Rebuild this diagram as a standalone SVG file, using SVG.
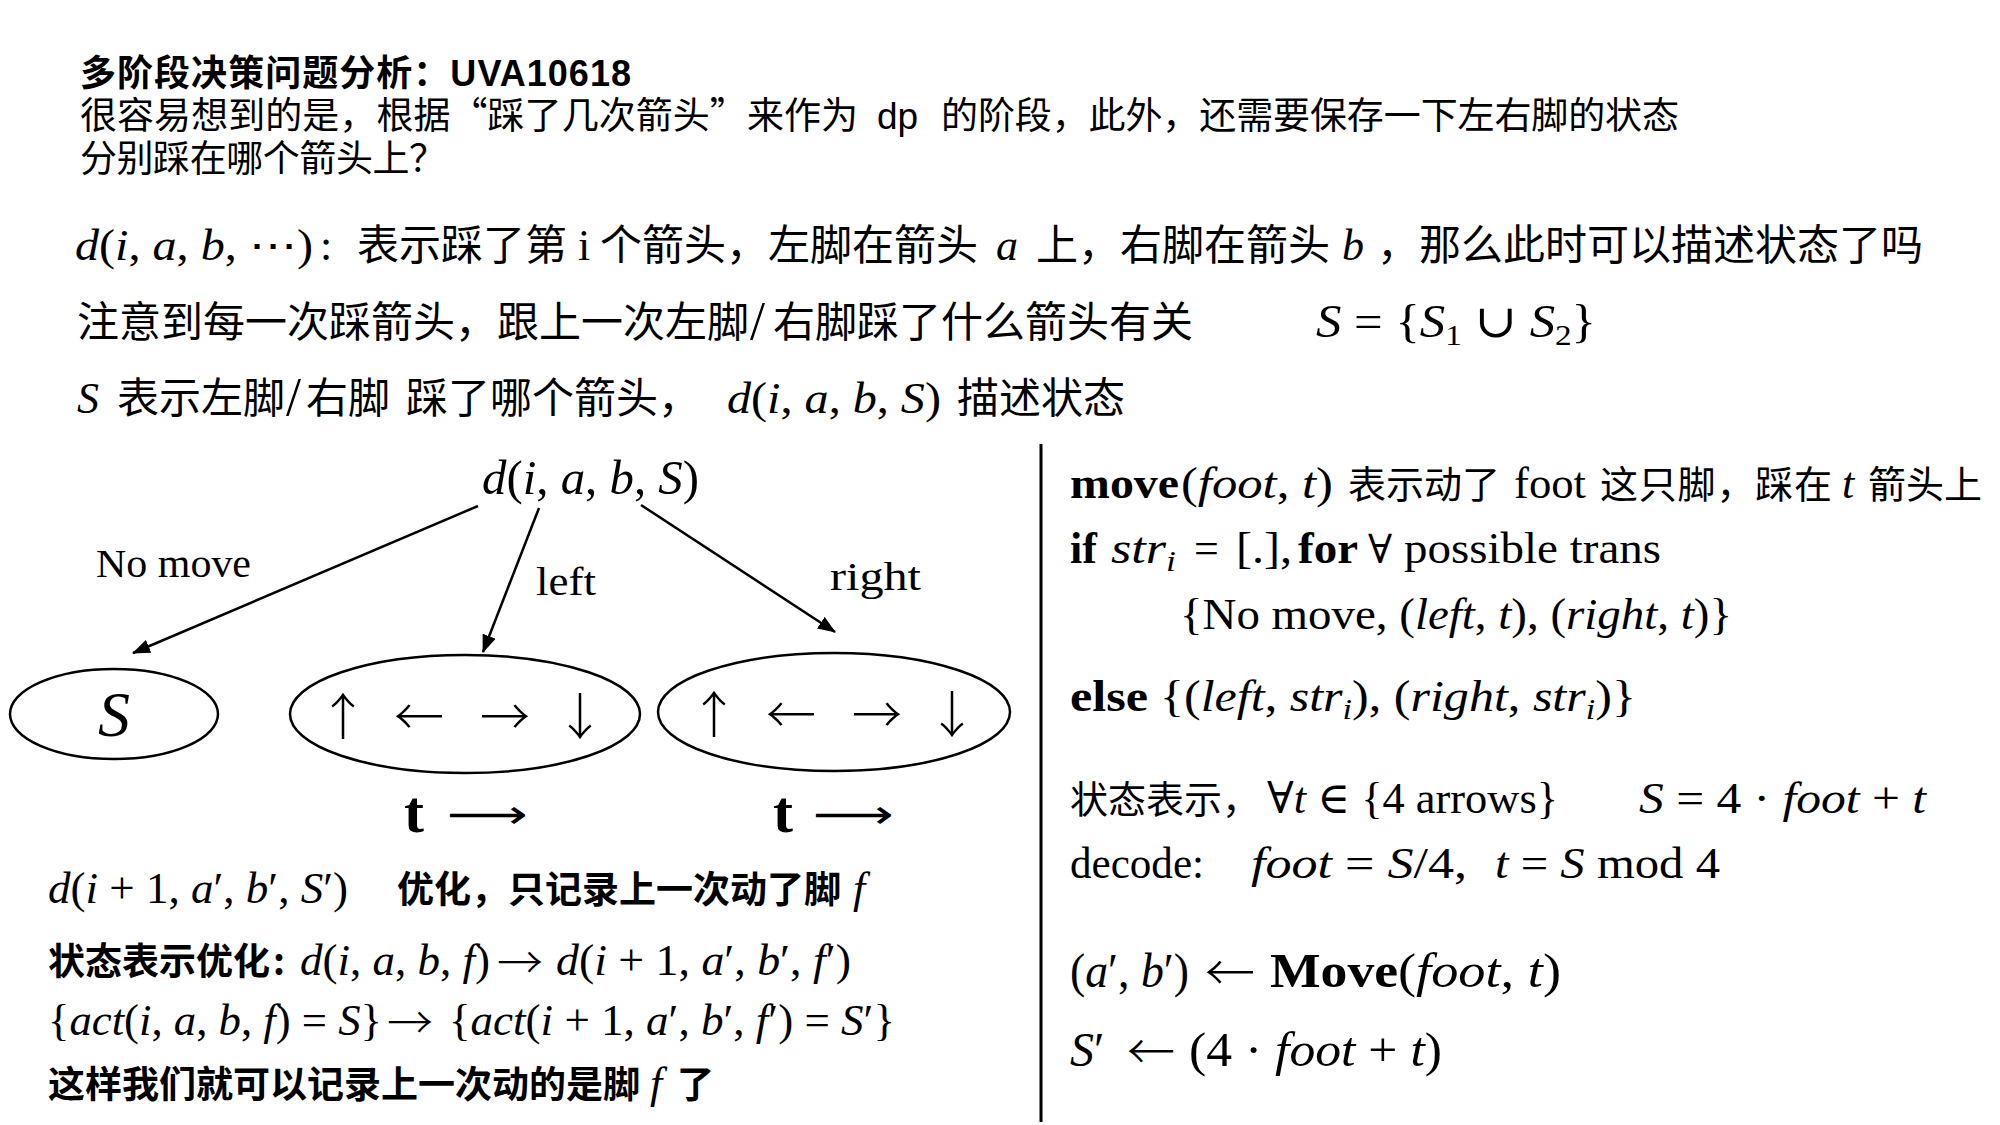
<svg xmlns="http://www.w3.org/2000/svg" width="2000" height="1125" viewBox="0 0 2000 1125">
<style>
text { fill: #000; }
.sans { font-family: "Liberation Sans", "Noto Sans CJK SC", sans-serif; }
.cjk { font-family: "Noto Sans CJK SC", sans-serif; }
.m { font-family: "Liberation Serif", "DejaVu Serif", serif; }
.sym { font-family: "DejaVu Sans", sans-serif; }
.ar { font-family: "Noto Sans CJK SC", "DejaVu Sans", sans-serif; font-weight: 300; }
.i { font-style: italic; }
.b { font-weight: bold; }
.conn { stroke: #000; stroke-width: 2.5; fill: none; marker-end: url(#ah); }
.ell { stroke: #000; stroke-width: 2.5; fill: none; }
</style>
<defs>
<marker id="ah" markerUnits="userSpaceOnUse" markerWidth="18" markerHeight="14" refX="17" refY="7" orient="auto">
<path d="M0,0 L18,7 L0,14 z" fill="#000"/>
</marker>
</defs>
<rect width="2000" height="1125" fill="#fff"/>

<g id="header">
<text class="sans b" x="80" y="86" font-size="36" textLength="551">多阶段决策问题分析：UVA10618</text>
<text class="cjk" x="80" y="129" font-size="37" textLength="778">很容易想到的是，根据“踩了几次箭头”来作为</text>
<text class="sans" x="877" y="129" font-size="37">dp</text>
<text class="cjk" x="941" y="129" font-size="37" textLength="738">的阶段，此外，还需要保存一下左右脚的状态</text>
<text class="cjk" x="80" y="172" font-size="37" textLength="366">分别踩在哪个箭头上？</text>
</g>

<g id="state-def">
<text class="m" x="75" y="260" font-size="44" textLength="238" lengthAdjust="spacingAndGlyphs"><tspan class="i">d</tspan>(<tspan class="i">i</tspan>, <tspan class="i">a</tspan>, <tspan class="i">b</tspan>, ⋯)</text>
<text class="m" x="320" y="260" font-size="44">:</text>
<text class="cjk" x="357" y="260" font-size="42">表示踩了第</text>
<text class="m" x="578" y="260" font-size="44">i</text>
<text class="cjk" x="600" y="260" font-size="42">个箭头，左脚在箭头</text>
<text class="m i" x="996" y="260" font-size="44">a</text>
<text class="cjk" x="1036" y="260" font-size="42">上，右脚在箭头</text>
<text class="m i" x="1342" y="260" font-size="44">b</text>
<text class="cjk" x="1377" y="260" font-size="42">，那么此时可以描述状态了吗</text>

<text class="cjk" x="77" y="337" font-size="42">注意到每一次踩箭头，跟上一次左脚</text>
<text class="m" x="750" y="339" font-size="54">/</text>
<text class="cjk" x="773" y="337" font-size="42">右脚踩了什么箭头有关</text>
<text class="m" x="1316" y="337" font-size="46" textLength="280" lengthAdjust="spacingAndGlyphs"><tspan class="i">S</tspan> = {<tspan class="i">S</tspan><tspan font-size="30" dy="8">1</tspan><tspan dy="-8"> ∪ </tspan><tspan class="i">S</tspan><tspan font-size="30" dy="8">2</tspan><tspan dy="-8">}</tspan></text>

<text class="m i" x="77" y="413" font-size="44">S</text>
<text class="cjk" x="117" y="413" font-size="42">表示左脚</text>
<text class="m" x="286" y="415" font-size="54">/</text>
<text class="cjk" x="306" y="413" font-size="42">右脚</text>
<text class="cjk" x="406" y="413" font-size="42">踩了哪个箭头，</text>
<text class="m" x="727" y="413" font-size="44" textLength="214" lengthAdjust="spacingAndGlyphs"><tspan class="i">d</tspan>(<tspan class="i">i</tspan>, <tspan class="i">a</tspan>, <tspan class="i">b</tspan>, <tspan class="i">S</tspan>)</text>
<text class="cjk" x="957" y="413" font-size="42">描述状态</text>
</g>

<g id="root">
<text class="m" x="482" y="494" font-size="48" textLength="217" lengthAdjust="spacingAndGlyphs"><tspan class="i">d</tspan>(<tspan class="i">i</tspan>, <tspan class="i">a</tspan>, <tspan class="i">b</tspan>, <tspan class="i">S</tspan>)</text>
</g>

<g id="connectors">
<line class="conn" x1="478" y1="506" x2="133" y2="653"/>
<line class="conn" x1="539" y1="508" x2="483" y2="652"/>
<line class="conn" x1="641" y1="505" x2="835" y2="632"/>
<text class="m" x="96" y="577" font-size="40" textLength="155" lengthAdjust="spacingAndGlyphs">No move</text>
<text class="m" x="536" y="595" font-size="40" textLength="60" lengthAdjust="spacingAndGlyphs">left</text>
<text class="m" x="830" y="590" font-size="40" textLength="91" lengthAdjust="spacingAndGlyphs">right</text>
</g>

<g id="node-S">
<ellipse class="ell" cx="114" cy="714" rx="104" ry="45"/>
<text class="m i" x="114" y="736" font-size="64" text-anchor="middle">S</text>
</g>

<g id="node-left">
<ellipse class="ell" cx="465" cy="714" rx="175" ry="59"/>
<text class="ar" x="343" y="735" font-size="50" text-anchor="middle">↑</text>
<text class="ar" x="419" y="735" font-size="50" text-anchor="middle">←</text>
<text class="ar" x="505" y="735" font-size="50" text-anchor="middle">→</text>
<text class="ar" x="580" y="735" font-size="50" text-anchor="middle">↓</text>
<text class="m b" x="404" y="832" font-size="60">t</text>
<text class="sym" x="447" y="828" font-size="40" textLength="81" lengthAdjust="spacingAndGlyphs">⟶</text>
</g>

<g id="node-right">
<ellipse class="ell" cx="834" cy="712" rx="176" ry="59"/>
<text class="ar" x="714" y="733" font-size="50" text-anchor="middle">↑</text>
<text class="ar" x="791" y="733" font-size="50" text-anchor="middle">←</text>
<text class="ar" x="877" y="733" font-size="50" text-anchor="middle">→</text>
<text class="ar" x="952" y="733" font-size="50" text-anchor="middle">↓</text>
<text class="m b" x="773" y="832" font-size="60">t</text>
<text class="sym" x="813" y="828" font-size="40" textLength="81" lengthAdjust="spacingAndGlyphs">⟶</text>
</g>

<g id="notes-left">
<text class="m" x="48" y="903" font-size="44" textLength="300" lengthAdjust="spacingAndGlyphs"><tspan class="i">d</tspan>(<tspan class="i">i</tspan> + 1, <tspan class="i">a</tspan>′, <tspan class="i">b</tspan>′, <tspan class="i">S</tspan>′)</text>
<text class="cjk b" x="397" y="903" font-size="37">优化，只记录上一次动了脚</text>
<text class="m i" x="853" y="903" font-size="44">f</text>

<text class="cjk b" x="48" y="975" font-size="37">状态表示优化</text>
<text class="cjk b" x="273" y="975" font-size="37">:</text>
<text class="m" x="300" y="975" font-size="44" textLength="190" lengthAdjust="spacingAndGlyphs"><tspan class="i">d</tspan>(<tspan class="i">i</tspan>, <tspan class="i">a</tspan>, <tspan class="i">b</tspan>, <tspan class="i">f</tspan>)</text>
<text class="ar" x="497" y="979" font-size="44" textLength="46" lengthAdjust="spacingAndGlyphs">→</text>
<text class="m" x="556" y="975" font-size="44" textLength="295" lengthAdjust="spacingAndGlyphs"><tspan class="i">d</tspan>(<tspan class="i">i</tspan> + 1, <tspan class="i">a</tspan>′, <tspan class="i">b</tspan>′, <tspan class="i">f</tspan>′)</text>

<text class="m" x="48" y="1035" font-size="44" textLength="334" lengthAdjust="spacingAndGlyphs">{<tspan class="i">act</tspan>(<tspan class="i">i</tspan>, <tspan class="i">a</tspan>, <tspan class="i">b</tspan>, <tspan class="i">f</tspan>) = <tspan class="i">S</tspan>}</text>
<text class="ar" x="387" y="1039" font-size="44" textLength="46" lengthAdjust="spacingAndGlyphs">→</text>
<text class="m" x="449" y="1035" font-size="44" textLength="446" lengthAdjust="spacingAndGlyphs">{<tspan class="i">act</tspan>(<tspan class="i">i</tspan> + 1, <tspan class="i">a</tspan>′, <tspan class="i">b</tspan>′, <tspan class="i">f</tspan>′) = <tspan class="i">S</tspan>′}</text>

<text class="cjk b" x="48" y="1098" font-size="37">这样我们就可以记录上一次动的是脚</text>
<text class="m i" x="650" y="1098" font-size="44">f</text>
<text class="cjk b" x="677" y="1098" font-size="37">了</text>
</g>

<g id="separator">
<line x1="1041" y1="444" x2="1041" y2="1122" stroke="#000" stroke-width="3"/>
</g>

<g id="notes-right">
<text class="m b" x="1070" y="498" font-size="44" textLength="109" lengthAdjust="spacingAndGlyphs">move</text>
<text class="m" x="1181" y="498" font-size="44" textLength="152" lengthAdjust="spacingAndGlyphs">(<tspan class="i">foot</tspan>, <tspan class="i">t</tspan>)</text>
<text class="cjk" x="1348" y="498" font-size="38">表示动了</text>
<text class="m" x="1514" y="498" font-size="44" textLength="72" lengthAdjust="spacingAndGlyphs">foot</text>
<text class="cjk" x="1600" y="498" font-size="38" textLength="232">这只脚，踩在</text>
<text class="m i" x="1842" y="498" font-size="44">t</text>
<text class="cjk" x="1868" y="498" font-size="38">箭头上</text>

<text class="m b" x="1070" y="563" font-size="44">if</text>
<text class="m" x="1111" y="563" font-size="44" textLength="65" lengthAdjust="spacingAndGlyphs"><tspan class="i">str</tspan><tspan class="i" font-size="30" dy="8">i</tspan></text>
<text class="m" x="1194" y="563" font-size="44">=</text>
<text class="m" x="1236" y="563" font-size="44" textLength="56" lengthAdjust="spacingAndGlyphs">[.],</text>
<text class="m b" x="1298" y="563" font-size="44" textLength="60" lengthAdjust="spacingAndGlyphs">for</text>
<text class="m" x="1368" y="563" font-size="40">∀</text>
<text class="m" x="1404" y="563" font-size="44" textLength="257" lengthAdjust="spacingAndGlyphs">possible trans</text>

<text class="m" x="1180" y="629" font-size="44" textLength="552" lengthAdjust="spacingAndGlyphs">{No move, (<tspan class="i">left</tspan>, <tspan class="i">t</tspan>), (<tspan class="i">right</tspan>, <tspan class="i">t</tspan>)}</text>

<text class="m b" x="1070" y="711" font-size="44" textLength="78" lengthAdjust="spacingAndGlyphs">else</text>
<text class="m" x="1160" y="711" font-size="44" textLength="476" lengthAdjust="spacingAndGlyphs">{(<tspan class="i">left</tspan>, <tspan class="i">str</tspan><tspan class="i" font-size="30" dy="8">i</tspan><tspan dy="-8">), (</tspan><tspan class="i">right</tspan>, <tspan class="i">str</tspan><tspan class="i" font-size="30" dy="8">i</tspan><tspan dy="-8">)}</tspan></text>

<text class="cjk" x="1070" y="813" font-size="38">状态表示，</text>
<text class="m" x="1267" y="813" font-size="44" textLength="291" lengthAdjust="spacingAndGlyphs">∀<tspan class="i">t</tspan> ∈ {4 arrows}</text>
<text class="m" x="1639" y="813" font-size="44" textLength="287" lengthAdjust="spacingAndGlyphs"><tspan class="i">S</tspan> = 4 · <tspan class="i">foot</tspan> + <tspan class="i">t</tspan></text>

<text class="m" x="1070" y="878" font-size="44" textLength="134" lengthAdjust="spacingAndGlyphs">decode:</text>
<text class="m" x="1251" y="878" font-size="44" textLength="216" lengthAdjust="spacingAndGlyphs"><tspan class="i">foot</tspan> = <tspan class="i">S</tspan>/4,</text>
<text class="m" x="1495" y="878" font-size="44" textLength="225" lengthAdjust="spacingAndGlyphs"><tspan class="i">t</tspan> = <tspan class="i">S</tspan> mod 4</text>

<text class="m" x="1070" y="987" font-size="48" textLength="119" lengthAdjust="spacingAndGlyphs">(<tspan class="i">a</tspan>′, <tspan class="i">b</tspan>′)</text>
<text class="ar" x="1205" y="990" font-size="48" textLength="50" lengthAdjust="spacingAndGlyphs">←</text>
<text class="m b" x="1270" y="987" font-size="48" textLength="128" lengthAdjust="spacingAndGlyphs">Move</text>
<text class="m" x="1398" y="987" font-size="48" textLength="163" lengthAdjust="spacingAndGlyphs">(<tspan class="i">foot</tspan>, <tspan class="i">t</tspan>)</text>

<text class="m i" x="1070" y="1066" font-size="48">S<tspan font-style="normal">′</tspan></text>
<text class="ar" x="1127" y="1069" font-size="48" textLength="48" lengthAdjust="spacingAndGlyphs">←</text>
<text class="m" x="1189" y="1066" font-size="48" textLength="253" lengthAdjust="spacingAndGlyphs">(4 · <tspan class="i">foot</tspan> + <tspan class="i">t</tspan>)</text>
</g>
</svg>
